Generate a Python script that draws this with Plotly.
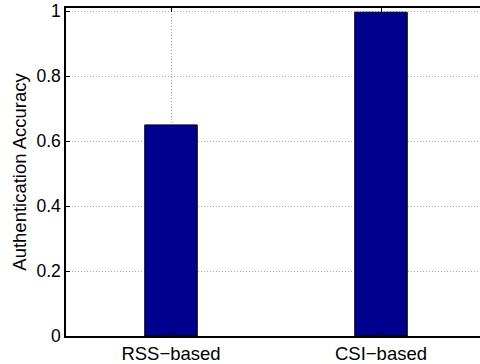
import plotly.graph_objects as go

# Authentication accuracy of the two schemes
methods = ["RSS\u2212based", "CSI\u2212based"]
accuracy = [0.65, 0.997]
y_ticks = [0, 0.2, 0.4, 0.6, 0.8, 1]
y_tick_text = ["0", "0.2", "0.4", "0.6", "0.8", "1"]

FONT = "Liberation Sans, Arial, Helvetica, sans-serif"
GRID = "#a8a8a8"
DOTS = "1px,2px"

fig = go.Figure(
    go.Bar(
        x=methods,
        y=accuracy,
        width=0.25,
        marker=dict(color="#00008F", line=dict(color="#000000", width=1)),
    )
)

fig.update_layout(
    width=480,
    height=364,
    margin=dict(l=66, r=0, t=8, b=26),
    paper_bgcolor="white",
    plot_bgcolor="white",
    showlegend=False,
    font=dict(family=FONT, size=18, color="#000000"),
)

fig.update_xaxes(
    range=[-0.5, 1.4714],
    showline=True,
    linecolor="#000000",
    linewidth=1.5,
    mirror="ticks",
    ticks="inside",
    ticklen=4,
    tickcolor="#000000",
    showgrid=True,
    gridcolor=GRID,
    griddash=DOTS,
    gridwidth=1,
    tickfont=dict(size=18.5),
)

fig.update_yaxes(
    range=[0, 1.01],
    tickvals=y_ticks,
    ticktext=y_tick_text,
    showline=True,
    linecolor="#000000",
    linewidth=1.5,
    ticks="inside",
    ticklen=4,
    tickcolor="#000000",
    showgrid=True,
    gridcolor=GRID,
    griddash=DOTS,
    gridwidth=1,
    zeroline=False,
    tickfont=dict(size=17.5),
    title=dict(text="Authentication Accuracy", font=dict(size=18.5), standoff=5),
)

fig.write_html("out.html")
